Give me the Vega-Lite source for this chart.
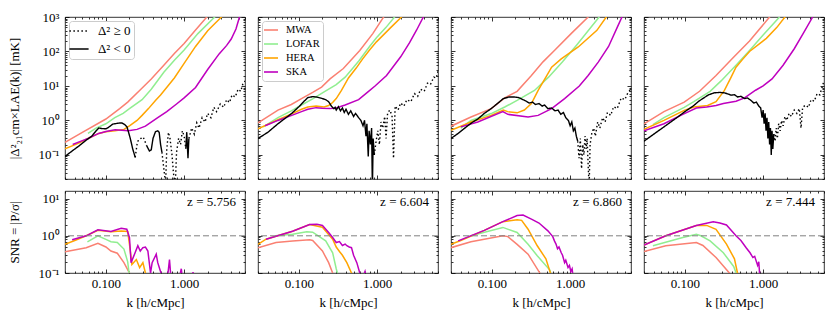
{
"$schema":"https://vega.github.io/schema/vega-lite/v6.json",
"padding":{"left":7,"top":10,"right":8,"bottom":4},
"autosize":{"type":"pad"},
"background":"white",
"config":{
 "font":"Liberation Serif",
 "view":{"stroke":"black","strokeWidth":0.8},
 "axis":{"labelFont":"Liberation Serif","titleFont":"Liberation Serif","labelFontSize":13,"titleFontSize":13,"titleFontWeight":"normal","labelColor":"black","titleColor":"black","grid":false,"labelOverlap":false,"labelFlush":false,"domain":false,"tickColor":"black","tickWidth":0.8},
 "legend":{"labelFont":"Liberation Serif","labelColor":"black"},
 "text":{"font":"Liberation Serif"}
},
"datasets":{
"noise":[
{"p":1,"s":"MWA","k":0.03,"v":0.23},{"p":1,"s":"MWA","k":0.05,"v":0.45},{"p":1,"s":"MWA","k":0.1,"v":1.1},{"p":1,"s":"MWA","k":0.15,"v":2.2},{"p":1,"s":"MWA","k":0.19,"v":3.4},{"p":1,"s":"MWA","k":0.28,"v":8},{"p":1,"s":"MWA","k":0.38,"v":16},{"p":1,"s":"MWA","k":0.55,"v":40},{"p":1,"s":"MWA","k":0.75,"v":87},{"p":1,"s":"MWA","k":1.0,"v":170},{"p":1,"s":"MWA","k":1.4,"v":420},{"p":1,"s":"MWA","k":1.95,"v":1000},{"p":1,"s":"MWA","k":2.2,"v":1400},
{"p":1,"s":"LOFAR","k":0.059,"v":0.42},{"p":1,"s":"LOFAR","k":0.075,"v":0.6},{"p":1,"s":"LOFAR","k":0.1,"v":0.8},{"p":1,"s":"LOFAR","k":0.13,"v":1.2},{"p":1,"s":"LOFAR","k":0.166,"v":1.6},{"p":1,"s":"LOFAR","k":0.2,"v":2.2},{"p":1,"s":"LOFAR","k":0.29,"v":4},{"p":1,"s":"LOFAR","k":0.38,"v":8},{"p":1,"s":"LOFAR","k":0.55,"v":25},{"p":1,"s":"LOFAR","k":0.75,"v":56},{"p":1,"s":"LOFAR","k":1.0,"v":110},{"p":1,"s":"LOFAR","k":1.5,"v":330},{"p":1,"s":"LOFAR","k":2.46,"v":1000},{"p":1,"s":"LOFAR","k":2.8,"v":1400},
{"p":1,"s":"HERA","k":0.03,"v":0.15},{"p":1,"s":"HERA","k":0.045,"v":0.22},{"p":1,"s":"HERA","k":0.059,"v":0.3},{"p":1,"s":"HERA","k":0.081,"v":0.42},{"p":1,"s":"HERA","k":0.1,"v":0.47},{"p":1,"s":"HERA","k":0.131,"v":0.5},{"p":1,"s":"HERA","k":0.17,"v":0.55},{"p":1,"s":"HERA","k":0.2,"v":0.7},{"p":1,"s":"HERA","k":0.25,"v":1.0},{"p":1,"s":"HERA","k":0.29,"v":1.4},{"p":1,"s":"HERA","k":0.35,"v":2.2},{"p":1,"s":"HERA","k":0.43,"v":3.8},{"p":1,"s":"HERA","k":0.5,"v":5.5},{"p":1,"s":"HERA","k":0.62,"v":10},{"p":1,"s":"HERA","k":0.75,"v":17},{"p":1,"s":"HERA","k":1.0,"v":45},{"p":1,"s":"HERA","k":1.4,"v":140},{"p":1,"s":"HERA","k":2.0,"v":400},{"p":1,"s":"HERA","k":3.0,"v":1000},{"p":1,"s":"HERA","k":3.5,"v":1400},
{"p":1,"s":"SKA","k":0.0376,"v":0.2},{"p":1,"s":"SKA","k":0.05,"v":0.26},{"p":1,"s":"SKA","k":0.059,"v":0.3},{"p":1,"s":"SKA","k":0.081,"v":0.42},{"p":1,"s":"SKA","k":0.1,"v":0.48},{"p":1,"s":"SKA","k":0.131,"v":0.54},{"p":1,"s":"SKA","k":0.16,"v":0.52},{"p":1,"s":"SKA","k":0.194,"v":0.5},{"p":1,"s":"SKA","k":0.25,"v":0.55},{"p":1,"s":"SKA","k":0.32,"v":0.68},{"p":1,"s":"SKA","k":0.46,"v":1.2},{"p":1,"s":"SKA","k":0.6,"v":1.8},{"p":1,"s":"SKA","k":0.8,"v":3.0},{"p":1,"s":"SKA","k":1.0,"v":4.5},{"p":1,"s":"SKA","k":1.4,"v":9},{"p":1,"s":"SKA","k":2.0,"v":30},{"p":1,"s":"SKA","k":2.8,"v":85},{"p":1,"s":"SKA","k":3.5,"v":150},{"p":1,"s":"SKA","k":4.0,"v":230},{"p":1,"s":"SKA","k":4.6,"v":450},{"p":1,"s":"SKA","k":5.1,"v":1000},{"p":1,"s":"SKA","k":5.5,"v":1500},
{"p":2,"s":"MWA","k":0.03,"v":0.85},{"p":2,"s":"MWA","k":0.054,"v":2.0},{"p":2,"s":"MWA","k":0.08,"v":2.9},{"p":2,"s":"MWA","k":0.108,"v":4.3},{"p":2,"s":"MWA","k":0.15,"v":6.5},{"p":2,"s":"MWA","k":0.195,"v":9.3},{"p":2,"s":"MWA","k":0.25,"v":16},{"p":2,"s":"MWA","k":0.37,"v":32},{"p":2,"s":"MWA","k":0.6,"v":107},{"p":2,"s":"MWA","k":0.88,"v":330},{"p":2,"s":"MWA","k":1.21,"v":1000},{"p":2,"s":"MWA","k":1.35,"v":1400},
{"p":2,"s":"LOFAR","k":0.035,"v":0.65},{"p":2,"s":"LOFAR","k":0.054,"v":1.2},{"p":2,"s":"LOFAR","k":0.08,"v":1.9},{"p":2,"s":"LOFAR","k":0.108,"v":2.8},{"p":2,"s":"LOFAR","k":0.15,"v":4.2},{"p":2,"s":"LOFAR","k":0.21,"v":6.7},{"p":2,"s":"LOFAR","k":0.3,"v":11},{"p":2,"s":"LOFAR","k":0.39,"v":18},{"p":2,"s":"LOFAR","k":0.5,"v":35},{"p":2,"s":"LOFAR","k":0.59,"v":55},{"p":2,"s":"LOFAR","k":0.8,"v":140},{"p":2,"s":"LOFAR","k":0.98,"v":250},{"p":2,"s":"LOFAR","k":1.3,"v":500},{"p":2,"s":"LOFAR","k":1.67,"v":1000},{"p":2,"s":"LOFAR","k":1.9,"v":1400},
{"p":2,"s":"HERA","k":0.03,"v":0.57},{"p":2,"s":"HERA","k":0.054,"v":1.05},{"p":2,"s":"HERA","k":0.081,"v":1.55},{"p":2,"s":"HERA","k":0.108,"v":2.1},{"p":2,"s":"HERA","k":0.13,"v":2.45},{"p":2,"s":"HERA","k":0.166,"v":2.6},{"p":2,"s":"HERA","k":0.21,"v":2.45},{"p":2,"s":"HERA","k":0.24,"v":2.7},{"p":2,"s":"HERA","k":0.27,"v":3.3},{"p":2,"s":"HERA","k":0.3,"v":4.3},{"p":2,"s":"HERA","k":0.35,"v":7.4},{"p":2,"s":"HERA","k":0.43,"v":17},{"p":2,"s":"HERA","k":0.54,"v":33},{"p":2,"s":"HERA","k":0.65,"v":60},{"p":2,"s":"HERA","k":0.8,"v":110},{"p":2,"s":"HERA","k":0.98,"v":190},{"p":2,"s":"HERA","k":1.5,"v":500},{"p":2,"s":"HERA","k":2.05,"v":1000},{"p":2,"s":"HERA","k":2.3,"v":1400},
{"p":2,"s":"SKA","k":0.037,"v":0.7},{"p":2,"s":"SKA","k":0.054,"v":1.0},{"p":2,"s":"SKA","k":0.081,"v":1.4},{"p":2,"s":"SKA","k":0.108,"v":1.8},{"p":2,"s":"SKA","k":0.13,"v":2.1},{"p":2,"s":"SKA","k":0.166,"v":2.35},{"p":2,"s":"SKA","k":0.2,"v":2.25},{"p":2,"s":"SKA","k":0.25,"v":2.2},{"p":2,"s":"SKA","k":0.3,"v":2.3},{"p":2,"s":"SKA","k":0.39,"v":2.8},{"p":2,"s":"SKA","k":0.58,"v":4},{"p":2,"s":"SKA","k":0.75,"v":6.5},{"p":2,"s":"SKA","k":0.94,"v":10},{"p":2,"s":"SKA","k":1.32,"v":20},{"p":2,"s":"SKA","k":2.0,"v":70},{"p":2,"s":"SKA","k":2.6,"v":180},{"p":2,"s":"SKA","k":3.2,"v":420},{"p":2,"s":"SKA","k":3.9,"v":1000},{"p":2,"s":"SKA","k":4.3,"v":1400},
{"p":3,"s":"MWA","k":0.03,"v":0.68},{"p":3,"s":"MWA","k":0.054,"v":1.26},{"p":3,"s":"MWA","k":0.098,"v":2.2},{"p":3,"s":"MWA","k":0.146,"v":4.5},{"p":3,"s":"MWA","k":0.21,"v":7},{"p":3,"s":"MWA","k":0.32,"v":20},{"p":3,"s":"MWA","k":0.45,"v":50},{"p":3,"s":"MWA","k":0.63,"v":107},{"p":3,"s":"MWA","k":1.03,"v":330},{"p":3,"s":"MWA","k":1.7,"v":1000},{"p":3,"s":"MWA","k":1.9,"v":1400},
{"p":3,"s":"LOFAR","k":0.04,"v":0.6},{"p":3,"s":"LOFAR","k":0.054,"v":1.0},{"p":3,"s":"LOFAR","k":0.098,"v":1.58},{"p":3,"s":"LOFAR","k":0.146,"v":2.45},{"p":3,"s":"LOFAR","k":0.21,"v":3.8},{"p":3,"s":"LOFAR","k":0.35,"v":7.4},{"p":3,"s":"LOFAR","k":0.53,"v":18},{"p":3,"s":"LOFAR","k":0.8,"v":50},{"p":3,"s":"LOFAR","k":1.2,"v":150},{"p":3,"s":"LOFAR","k":1.7,"v":400},{"p":3,"s":"LOFAR","k":2.35,"v":1000},{"p":3,"s":"LOFAR","k":2.6,"v":1400},
{"p":3,"s":"HERA","k":0.03,"v":0.52},{"p":3,"s":"HERA","k":0.054,"v":0.9},{"p":3,"s":"HERA","k":0.098,"v":1.4},{"p":3,"s":"HERA","k":0.14,"v":2.0},{"p":3,"s":"HERA","k":0.159,"v":1.8},{"p":3,"s":"HERA","k":0.21,"v":1.66},{"p":3,"s":"HERA","k":0.26,"v":2.0},{"p":3,"s":"HERA","k":0.32,"v":3.1},{"p":3,"s":"HERA","k":0.39,"v":7.4},{"p":3,"s":"HERA","k":0.49,"v":18},{"p":3,"s":"HERA","k":0.58,"v":35},{"p":3,"s":"HERA","k":0.77,"v":61},{"p":3,"s":"HERA","k":1.27,"v":135},{"p":3,"s":"HERA","k":2.2,"v":410},{"p":3,"s":"HERA","k":2.9,"v":1000},{"p":3,"s":"HERA","k":3.2,"v":1400},
{"p":3,"s":"SKA","k":0.04,"v":0.65},{"p":3,"s":"SKA","k":0.066,"v":0.9},{"p":3,"s":"SKA","k":0.138,"v":1.8},{"p":3,"s":"SKA","k":0.16,"v":1.5},{"p":3,"s":"SKA","k":0.29,"v":1.26},{"p":3,"s":"SKA","k":0.39,"v":1.4},{"p":3,"s":"SKA","k":0.58,"v":2.2},{"p":3,"s":"SKA","k":0.85,"v":4.3},{"p":3,"s":"SKA","k":1.31,"v":10},{"p":3,"s":"SKA","k":1.7,"v":20},{"p":3,"s":"SKA","k":2.3,"v":50},{"p":3,"s":"SKA","k":3.1,"v":140},{"p":3,"s":"SKA","k":4.0,"v":500},{"p":3,"s":"SKA","k":4.6,"v":1000},{"p":3,"s":"SKA","k":5.0,"v":1400},
{"p":4,"s":"MWA","k":0.03,"v":0.8},{"p":4,"s":"MWA","k":0.054,"v":1.8},{"p":4,"s":"MWA","k":0.098,"v":3.4},{"p":4,"s":"MWA","k":0.154,"v":7},{"p":4,"s":"MWA","k":0.25,"v":20},{"p":4,"s":"MWA","k":0.41,"v":65},{"p":4,"s":"MWA","k":0.67,"v":200},{"p":4,"s":"MWA","k":1.21,"v":1000},{"p":4,"s":"MWA","k":1.35,"v":1400},
{"p":4,"s":"LOFAR","k":0.039,"v":0.75},{"p":4,"s":"LOFAR","k":0.054,"v":1.2},{"p":4,"s":"LOFAR","k":0.098,"v":2.4},{"p":4,"s":"LOFAR","k":0.13,"v":3.5},{"p":4,"s":"LOFAR","k":0.21,"v":7},{"p":4,"s":"LOFAR","k":0.29,"v":14},{"p":4,"s":"LOFAR","k":0.45,"v":40},{"p":4,"s":"LOFAR","k":0.67,"v":107},{"p":4,"s":"LOFAR","k":1.0,"v":300},{"p":4,"s":"LOFAR","k":1.62,"v":1000},{"p":4,"s":"LOFAR","k":1.8,"v":1400},
{"p":4,"s":"HERA","k":0.03,"v":0.55},{"p":4,"s":"HERA","k":0.054,"v":1.0},{"p":4,"s":"HERA","k":0.098,"v":1.96},{"p":4,"s":"HERA","k":0.13,"v":2.45},{"p":4,"s":"HERA","k":0.195,"v":2.7},{"p":4,"s":"HERA","k":0.25,"v":3.5},{"p":4,"s":"HERA","k":0.32,"v":7.4},{"p":4,"s":"HERA","k":0.39,"v":18},{"p":4,"s":"HERA","k":0.45,"v":35},{"p":4,"s":"HERA","k":0.55,"v":60},{"p":4,"s":"HERA","k":0.67,"v":100},{"p":4,"s":"HERA","k":1.1,"v":240},{"p":4,"s":"HERA","k":1.5,"v":500},{"p":4,"s":"HERA","k":1.9,"v":1000},{"p":4,"s":"HERA","k":2.1,"v":1400},
{"p":4,"s":"SKA","k":0.03,"v":0.5},{"p":4,"s":"SKA","k":0.054,"v":0.8},{"p":4,"s":"SKA","k":0.094,"v":1.5},{"p":4,"s":"SKA","k":0.14,"v":2.3},{"p":4,"s":"SKA","k":0.19,"v":2.45},{"p":4,"s":"SKA","k":0.25,"v":2.7},{"p":4,"s":"SKA","k":0.31,"v":3.1},{"p":4,"s":"SKA","k":0.45,"v":3.6},{"p":4,"s":"SKA","k":0.58,"v":4.5},{"p":4,"s":"SKA","k":0.8,"v":7.5},{"p":4,"s":"SKA","k":1.0,"v":10},{"p":4,"s":"SKA","k":1.3,"v":16},{"p":4,"s":"SKA","k":1.8,"v":40},{"p":4,"s":"SKA","k":2.5,"v":120},{"p":4,"s":"SKA","k":3.3,"v":350},{"p":4,"s":"SKA","k":4.3,"v":1000},{"p":4,"s":"SKA","k":4.7,"v":1400}
],
"sig":[
{"p":1,"g":1,"d":"neg","k":0.03,"v":0.09},{"p":1,"g":1,"d":"neg","k":0.037,"v":0.13},{"p":1,"g":1,"d":"neg","k":0.045,"v":0.18},{"p":1,"g":1,"d":"neg","k":0.055,"v":0.26},{"p":1,"g":1,"d":"neg","k":0.066,"v":0.35},{"p":1,"g":1,"d":"neg","k":0.075,"v":0.5},{"p":1,"g":1,"d":"neg","k":0.081,"v":0.6},{"p":1,"g":1,"d":"neg","k":0.09,"v":0.58},{"p":1,"g":1,"d":"neg","k":0.1,"v":0.57},{"p":1,"g":1,"d":"neg","k":0.107,"v":0.62},{"p":1,"g":1,"d":"neg","k":0.122,"v":0.78},{"p":1,"g":1,"d":"neg","k":0.138,"v":0.82},{"p":1,"g":1,"d":"neg","k":0.159,"v":0.85},{"p":1,"g":1,"d":"neg","k":0.175,"v":0.75},{"p":1,"g":1,"d":"neg","k":0.186,"v":0.65},{"p":1,"g":1,"d":"neg","k":0.195,"v":0.45},{"p":1,"g":1,"d":"neg","k":0.205,"v":0.3},{"p":1,"g":1,"d":"neg","k":0.22,"v":0.15},{"p":1,"g":1,"d":"neg","k":0.237,"v":0.085},
{"p":1,"g":2,"d":"pos","k":0.237,"v":0.085},{"p":1,"g":2,"d":"pos","k":0.25,"v":0.2},{"p":1,"g":2,"d":"pos","k":0.26,"v":0.27},{"p":1,"g":2,"d":"pos","k":0.28,"v":0.3},{"p":1,"g":2,"d":"pos","k":0.3,"v":0.33},{"p":1,"g":2,"d":"pos","k":0.315,"v":0.25},{"p":1,"g":2,"d":"pos","k":0.33,"v":0.19},
{"p":1,"g":3,"d":"neg","k":0.33,"v":0.19},{"p":1,"g":3,"d":"neg","k":0.36,"v":0.13},{"p":1,"g":3,"d":"neg","k":0.38,"v":0.14},{"p":1,"g":3,"d":"neg","k":0.4,"v":0.3},{"p":1,"g":3,"d":"neg","k":0.43,"v":0.47},{"p":1,"g":3,"d":"neg","k":0.46,"v":0.5},{"p":1,"g":3,"d":"neg","k":0.48,"v":0.45},{"p":1,"g":3,"d":"neg","k":0.5,"v":0.2},{"p":1,"g":3,"d":"neg","k":0.52,"v":0.12},
{"p":1,"g":4,"d":"pos","k":0.52,"v":0.12},{"p":1,"g":4,"d":"pos","k":0.55,"v":0.04},{"p":1,"g":4,"d":"pos","k":0.58,"v":0.015},{"p":1,"g":4,"d":"pos","k":0.6,"v":0.15},{"p":1,"g":4,"d":"pos","k":0.63,"v":0.45},{"p":1,"g":4,"d":"pos","k":0.66,"v":0.3},{"p":1,"g":4,"d":"pos","k":0.7,"v":0.1},{"p":1,"g":4,"d":"pos","k":0.73,"v":0.03},{"p":1,"g":4,"d":"pos","k":0.77,"v":0.012},{"p":1,"g":4,"d":"pos","k":0.8,"v":0.12},{"p":1,"g":4,"d":"pos","k":0.85,"v":0.3},{"p":1,"g":4,"d":"pos","k":0.9,"v":0.2},{"p":1,"g":4,"d":"pos","k":0.95,"v":0.5},{"p":1,"g":4,"d":"pos","k":1.0,"v":0.35},{"p":1,"g":4,"d":"pos","k":1.05,"v":0.15},
{"p":1,"g":5,"d":"neg","k":1.05,"v":0.15},{"p":1,"g":5,"d":"neg","k":1.08,"v":0.45},{"p":1,"g":5,"d":"neg","k":1.12,"v":0.08},{"p":1,"g":5,"d":"neg","k":1.15,"v":0.3},
{"p":1,"g":6,"d":"pos","k":1.15,"v":0.3},{"p":1,"g":6,"d":"pos","k":1.25,"v":0.6},{"p":1,"g":6,"d":"pos","k":1.35,"v":0.4},{"p":1,"g":6,"d":"pos","k":1.45,"v":0.85},{"p":1,"g":6,"d":"pos","k":1.55,"v":0.6},{"p":1,"g":6,"d":"pos","k":1.7,"v":1.2},{"p":1,"g":6,"d":"pos","k":1.85,"v":0.9},{"p":1,"g":6,"d":"pos","k":2.0,"v":1.6},{"p":1,"g":6,"d":"pos","k":2.2,"v":1.2},{"p":1,"g":6,"d":"pos","k":2.4,"v":2.4},{"p":1,"g":6,"d":"pos","k":2.6,"v":1.8},{"p":1,"g":6,"d":"pos","k":2.9,"v":3.0},{"p":1,"g":6,"d":"pos","k":3.2,"v":2.4},{"p":1,"g":6,"d":"pos","k":3.5,"v":4.0},{"p":1,"g":6,"d":"pos","k":3.8,"v":3.3},{"p":1,"g":6,"d":"pos","k":4.1,"v":5.5},{"p":1,"g":6,"d":"pos","k":4.5,"v":4.8},{"p":1,"g":6,"d":"pos","k":4.9,"v":8},{"p":1,"g":6,"d":"pos","k":5.3,"v":7},{"p":1,"g":6,"d":"pos","k":5.6,"v":11},{"p":1,"g":6,"d":"pos","k":6.0,"v":14},
{"p":2,"g":1,"d":"neg","k":0.03,"v":0.3},{"p":2,"g":1,"d":"neg","k":0.04,"v":0.45},{"p":2,"g":1,"d":"neg","k":0.054,"v":0.8},{"p":2,"g":1,"d":"neg","k":0.065,"v":1.1},{"p":2,"g":1,"d":"neg","k":0.081,"v":1.6},{"p":2,"g":1,"d":"neg","k":0.1,"v":2.5},{"p":2,"g":1,"d":"neg","k":0.115,"v":3.5},{"p":2,"g":1,"d":"neg","k":0.13,"v":4.6},{"p":2,"g":1,"d":"neg","k":0.15,"v":4.9},{"p":2,"g":1,"d":"neg","k":0.166,"v":4.8},{"p":2,"g":1,"d":"neg","k":0.185,"v":4.5},{"p":2,"g":1,"d":"neg","k":0.2,"v":4.3},{"p":2,"g":1,"d":"neg","k":0.22,"v":4.0},{"p":2,"g":1,"d":"neg","k":0.24,"v":3.5},{"p":2,"g":1,"d":"neg","k":0.26,"v":2.6},{"p":2,"g":1,"d":"neg","k":0.28,"v":2.2},{"p":2,"g":1,"d":"neg","k":0.29,"v":2.4},{"p":2,"g":1,"d":"neg","k":0.3,"v":2.0},{"p":2,"g":1,"d":"neg","k":0.32,"v":2.5},{"p":2,"g":1,"d":"neg","k":0.34,"v":1.9},{"p":2,"g":1,"d":"neg","k":0.36,"v":2.3},{"p":2,"g":1,"d":"neg","k":0.38,"v":1.7},{"p":2,"g":1,"d":"neg","k":0.4,"v":2.1},{"p":2,"g":1,"d":"neg","k":0.43,"v":1.5},{"p":2,"g":1,"d":"neg","k":0.46,"v":1.9},{"p":2,"g":1,"d":"neg","k":0.5,"v":1.3},{"p":2,"g":1,"d":"neg","k":0.53,"v":1.6},{"p":2,"g":1,"d":"neg","k":0.58,"v":1.2},{"p":2,"g":1,"d":"neg","k":0.62,"v":1.0},{"p":2,"g":1,"d":"neg","k":0.66,"v":0.7},{"p":2,"g":1,"d":"neg","k":0.69,"v":1.0},{"p":2,"g":1,"d":"neg","k":0.72,"v":0.35},{"p":2,"g":1,"d":"neg","k":0.74,"v":0.8},{"p":2,"g":1,"d":"neg","k":0.77,"v":0.09},{"p":2,"g":1,"d":"neg","k":0.79,"v":0.5},{"p":2,"g":1,"d":"neg","k":0.82,"v":0.2},{"p":2,"g":1,"d":"neg","k":0.85,"v":0.6},{"p":2,"g":1,"d":"neg","k":0.87,"v":0.01},{"p":2,"g":1,"d":"neg","k":0.89,"v":0.3},{"p":2,"g":1,"d":"neg","k":0.92,"v":0.1},
{"p":2,"g":2,"d":"pos","k":0.92,"v":0.1},{"p":2,"g":2,"d":"pos","k":0.97,"v":0.25},{"p":2,"g":2,"d":"pos","k":1.02,"v":0.5},{"p":2,"g":2,"d":"pos","k":1.07,"v":0.2},{"p":2,"g":2,"d":"pos","k":1.12,"v":0.9},{"p":2,"g":2,"d":"pos","k":1.18,"v":0.6},{"p":2,"g":2,"d":"pos","k":1.25,"v":1.3},{"p":2,"g":2,"d":"pos","k":1.3,"v":0.3},{"p":2,"g":2,"d":"pos","k":1.36,"v":1.6},{"p":2,"g":2,"d":"pos","k":1.45,"v":2.0},{"p":2,"g":2,"d":"pos","k":1.55,"v":1.4},{"p":2,"g":2,"d":"pos","k":1.62,"v":0.08},{"p":2,"g":2,"d":"pos","k":1.7,"v":2.6},{"p":2,"g":2,"d":"pos","k":1.85,"v":2.0},{"p":2,"g":2,"d":"pos","k":2.0,"v":3.2},{"p":2,"g":2,"d":"pos","k":2.2,"v":2.6},{"p":2,"g":2,"d":"pos","k":2.4,"v":4.0},{"p":2,"g":2,"d":"pos","k":2.7,"v":3.5},{"p":2,"g":2,"d":"pos","k":3.0,"v":6},{"p":2,"g":2,"d":"pos","k":3.3,"v":5},{"p":2,"g":2,"d":"pos","k":3.6,"v":8},{"p":2,"g":2,"d":"pos","k":4.0,"v":7},{"p":2,"g":2,"d":"pos","k":4.4,"v":12},{"p":2,"g":2,"d":"pos","k":4.8,"v":11},{"p":2,"g":2,"d":"pos","k":5.3,"v":18},{"p":2,"g":2,"d":"pos","k":5.7,"v":17},{"p":2,"g":2,"d":"pos","k":6.0,"v":27},
{"p":3,"g":1,"d":"neg","k":0.03,"v":0.3},{"p":3,"g":1,"d":"neg","k":0.037,"v":0.42},{"p":3,"g":1,"d":"neg","k":0.045,"v":0.6},{"p":3,"g":1,"d":"neg","k":0.055,"v":0.85},{"p":3,"g":1,"d":"neg","k":0.066,"v":1.1},{"p":3,"g":1,"d":"neg","k":0.08,"v":1.6},{"p":3,"g":1,"d":"neg","k":0.098,"v":2.2},{"p":3,"g":1,"d":"neg","k":0.12,"v":3.2},{"p":3,"g":1,"d":"neg","k":0.14,"v":4.3},{"p":3,"g":1,"d":"neg","k":0.166,"v":4.8},{"p":3,"g":1,"d":"neg","k":0.19,"v":4.8},{"p":3,"g":1,"d":"neg","k":0.22,"v":4.6},{"p":3,"g":1,"d":"neg","k":0.25,"v":4.0},{"p":3,"g":1,"d":"neg","k":0.27,"v":3.7},{"p":3,"g":1,"d":"neg","k":0.3,"v":3.2},{"p":3,"g":1,"d":"neg","k":0.33,"v":3.4},{"p":3,"g":1,"d":"neg","k":0.36,"v":2.9},{"p":3,"g":1,"d":"neg","k":0.4,"v":3.1},{"p":3,"g":1,"d":"neg","k":0.44,"v":2.6},{"p":3,"g":1,"d":"neg","k":0.47,"v":2.8},{"p":3,"g":1,"d":"neg","k":0.52,"v":2.2},{"p":3,"g":1,"d":"neg","k":0.58,"v":2.3},{"p":3,"g":1,"d":"neg","k":0.64,"v":1.9},{"p":3,"g":1,"d":"neg","k":0.7,"v":2.0},{"p":3,"g":1,"d":"neg","k":0.76,"v":1.5},{"p":3,"g":1,"d":"neg","k":0.82,"v":1.7},{"p":3,"g":1,"d":"neg","k":0.88,"v":1.2},{"p":3,"g":1,"d":"neg","k":0.95,"v":1.0},{"p":3,"g":1,"d":"neg","k":1.0,"v":0.7},{"p":3,"g":1,"d":"neg","k":1.05,"v":0.9},{"p":3,"g":1,"d":"neg","k":1.1,"v":0.5},{"p":3,"g":1,"d":"neg","k":1.15,"v":0.6},{"p":3,"g":1,"d":"neg","k":1.2,"v":0.35},{"p":3,"g":1,"d":"neg","k":1.25,"v":0.25},
{"p":3,"g":2,"d":"pos","k":1.25,"v":0.25},{"p":3,"g":2,"d":"pos","k":1.3,"v":0.08},{"p":3,"g":2,"d":"pos","k":1.35,"v":0.3},{"p":3,"g":2,"d":"pos","k":1.4,"v":0.04},{"p":3,"g":2,"d":"pos","k":1.45,"v":0.2},{"p":3,"g":2,"d":"pos","k":1.5,"v":0.1},{"p":3,"g":2,"d":"pos","k":1.55,"v":0.35},{"p":3,"g":2,"d":"pos","k":1.6,"v":0.15},{"p":3,"g":2,"d":"pos","k":1.65,"v":0.3},{"p":3,"g":2,"d":"pos","k":1.7,"v":0.05},{"p":3,"g":2,"d":"pos","k":1.75,"v":0.012},{"p":3,"g":2,"d":"pos","k":1.8,"v":0.2},{"p":3,"g":2,"d":"pos","k":1.9,"v":0.45},{"p":3,"g":2,"d":"pos","k":2.0,"v":0.6},{"p":3,"g":2,"d":"pos","k":2.1,"v":0.35},{"p":3,"g":2,"d":"pos","k":2.25,"v":0.9},{"p":3,"g":2,"d":"pos","k":2.4,"v":0.6},{"p":3,"g":2,"d":"pos","k":2.6,"v":1.2},{"p":3,"g":2,"d":"pos","k":2.8,"v":0.9},{"p":3,"g":2,"d":"pos","k":3.0,"v":1.7},{"p":3,"g":2,"d":"pos","k":3.3,"v":1.4},{"p":3,"g":2,"d":"pos","k":3.6,"v":2.5},{"p":3,"g":2,"d":"pos","k":4.0,"v":2.2},{"p":3,"g":2,"d":"pos","k":4.5,"v":4.5},{"p":3,"g":2,"d":"pos","k":5.0,"v":4.0},{"p":3,"g":2,"d":"pos","k":5.5,"v":6.5},{"p":3,"g":2,"d":"pos","k":6.0,"v":8},
{"p":4,"g":1,"d":"neg","k":0.03,"v":0.25},{"p":4,"g":1,"d":"neg","k":0.04,"v":0.4},{"p":4,"g":1,"d":"neg","k":0.054,"v":0.65},{"p":4,"g":1,"d":"neg","k":0.066,"v":0.9},{"p":4,"g":1,"d":"neg","k":0.081,"v":1.26},{"p":4,"g":1,"d":"neg","k":0.1,"v":1.8},{"p":4,"g":1,"d":"neg","k":0.13,"v":2.7},{"p":4,"g":1,"d":"neg","k":0.15,"v":3.6},{"p":4,"g":1,"d":"neg","k":0.177,"v":4.6},{"p":4,"g":1,"d":"neg","k":0.2,"v":5.5},{"p":4,"g":1,"d":"neg","k":0.236,"v":6.3},{"p":4,"g":1,"d":"neg","k":0.28,"v":6.5},{"p":4,"g":1,"d":"neg","k":0.32,"v":6.3},{"p":4,"g":1,"d":"neg","k":0.36,"v":5.8},{"p":4,"g":1,"d":"neg","k":0.39,"v":5.4},{"p":4,"g":1,"d":"neg","k":0.43,"v":5.6},{"p":4,"g":1,"d":"neg","k":0.47,"v":4.8},{"p":4,"g":1,"d":"neg","k":0.52,"v":5.0},{"p":4,"g":1,"d":"neg","k":0.58,"v":4.3},{"p":4,"g":1,"d":"neg","k":0.63,"v":4.5},{"p":4,"g":1,"d":"neg","k":0.7,"v":3.8},{"p":4,"g":1,"d":"neg","k":0.76,"v":3.2},{"p":4,"g":1,"d":"neg","k":0.82,"v":3.4},{"p":4,"g":1,"d":"neg","k":0.88,"v":2.6},{"p":4,"g":1,"d":"neg","k":0.93,"v":2.3},{"p":4,"g":1,"d":"neg","k":0.97,"v":1.2},{"p":4,"g":1,"d":"neg","k":1.0,"v":2.0},{"p":4,"g":1,"d":"neg","k":1.03,"v":0.8},{"p":4,"g":1,"d":"neg","k":1.06,"v":1.6},{"p":4,"g":1,"d":"neg","k":1.09,"v":0.5},{"p":4,"g":1,"d":"neg","k":1.12,"v":1.2},{"p":4,"g":1,"d":"neg","k":1.15,"v":0.3},{"p":4,"g":1,"d":"neg","k":1.18,"v":0.9},{"p":4,"g":1,"d":"neg","k":1.21,"v":0.2},{"p":4,"g":1,"d":"neg","k":1.24,"v":0.6},{"p":4,"g":1,"d":"neg","k":1.27,"v":0.1},{"p":4,"g":1,"d":"neg","k":1.3,"v":0.5},{"p":4,"g":1,"d":"neg","k":1.33,"v":0.15},{"p":4,"g":1,"d":"neg","k":1.37,"v":0.4},
{"p":4,"g":2,"d":"pos","k":1.37,"v":0.4},{"p":4,"g":2,"d":"pos","k":1.42,"v":0.25},{"p":4,"g":2,"d":"pos","k":1.47,"v":0.6},{"p":4,"g":2,"d":"pos","k":1.52,"v":0.3},{"p":4,"g":2,"d":"pos","k":1.58,"v":0.8},{"p":4,"g":2,"d":"pos","k":1.65,"v":0.5},{"p":4,"g":2,"d":"pos","k":1.72,"v":1.0},{"p":4,"g":2,"d":"pos","k":1.8,"v":0.7},{"p":4,"g":2,"d":"pos","k":1.9,"v":1.3},{"p":4,"g":2,"d":"pos","k":2.0,"v":1.0},{"p":4,"g":2,"d":"pos","k":2.15,"v":1.6},{"p":4,"g":2,"d":"pos","k":2.3,"v":1.3},{"p":4,"g":2,"d":"pos","k":2.5,"v":2.0},{"p":4,"g":2,"d":"pos","k":2.7,"v":1.6},{"p":4,"g":2,"d":"pos","k":2.9,"v":2.2},{"p":4,"g":2,"d":"pos","k":3.05,"v":0.6},{"p":4,"g":2,"d":"pos","k":3.2,"v":2.4},{"p":4,"g":2,"d":"pos","k":3.5,"v":2.8},{"p":4,"g":2,"d":"pos","k":3.8,"v":2.4},{"p":4,"g":2,"d":"pos","k":4.1,"v":4.0},{"p":4,"g":2,"d":"pos","k":4.5,"v":3.6},{"p":4,"g":2,"d":"pos","k":4.9,"v":6.0},{"p":4,"g":2,"d":"pos","k":5.3,"v":5.5},{"p":4,"g":2,"d":"pos","k":5.7,"v":9.5},{"p":4,"g":2,"d":"pos","k":6.0,"v":14}
],
"snr":[
{"p":1,"s":"MWA","k":0.03,"v":0.37},{"p":1,"s":"MWA","k":0.056,"v":0.48},{"p":1,"s":"MWA","k":0.079,"v":0.63},{"p":1,"s":"MWA","k":0.1,"v":0.5},{"p":1,"s":"MWA","k":0.116,"v":0.39},{"p":1,"s":"MWA","k":0.14,"v":0.34},{"p":1,"s":"MWA","k":0.17,"v":0.19},{"p":1,"s":"MWA","k":0.2,"v":0.1},{"p":1,"s":"MWA","k":0.21,"v":0.08},
{"p":1,"s":"LOFAR","k":0.058,"v":0.69},{"p":1,"s":"LOFAR","k":0.079,"v":1.0},{"p":1,"s":"LOFAR","k":0.1,"v":0.8},{"p":1,"s":"LOFAR","k":0.116,"v":0.69},{"p":1,"s":"LOFAR","k":0.14,"v":0.66},{"p":1,"s":"LOFAR","k":0.17,"v":0.44},{"p":1,"s":"LOFAR","k":0.19,"v":0.2},{"p":1,"s":"LOFAR","k":0.2,"v":0.08},
{"p":1,"s":"HERA","k":0.03,"v":0.59},{"p":1,"s":"HERA","k":0.04,"v":0.75},{"p":1,"s":"HERA","k":0.056,"v":1.0},{"p":1,"s":"HERA","k":0.079,"v":1.4},{"p":1,"s":"HERA","k":0.116,"v":1.28},{"p":1,"s":"HERA","k":0.157,"v":1.35},{"p":1,"s":"HERA","k":0.19,"v":1.3},{"p":1,"s":"HERA","k":0.2,"v":0.6},{"p":1,"s":"HERA","k":0.215,"v":0.17},{"p":1,"s":"HERA","k":0.245,"v":0.23},{"p":1,"s":"HERA","k":0.27,"v":0.14},{"p":1,"s":"HERA","k":0.297,"v":0.19},{"p":1,"s":"HERA","k":0.32,"v":0.1},{"p":1,"s":"HERA","k":0.34,"v":0.06},
{"p":1,"s":"SKA","k":0.037,"v":0.78},{"p":1,"s":"SKA","k":0.056,"v":1.0},{"p":1,"s":"SKA","k":0.079,"v":1.45},{"p":1,"s":"SKA","k":0.116,"v":1.3},{"p":1,"s":"SKA","k":0.157,"v":1.6},{"p":1,"s":"SKA","k":0.185,"v":1.5},{"p":1,"s":"SKA","k":0.2,"v":0.9},{"p":1,"s":"SKA","k":0.21,"v":0.19},{"p":1,"s":"SKA","k":0.232,"v":0.32},{"p":1,"s":"SKA","k":0.256,"v":0.54},{"p":1,"s":"SKA","k":0.275,"v":0.39},{"p":1,"s":"SKA","k":0.297,"v":0.48},{"p":1,"s":"SKA","k":0.32,"v":0.5},{"p":1,"s":"SKA","k":0.344,"v":0.39},{"p":1,"s":"SKA","k":0.372,"v":0.1},{"p":1,"s":"SKA","k":0.39,"v":0.19},{"p":1,"s":"SKA","k":0.44,"v":0.32},{"p":1,"s":"SKA","k":0.46,"v":0.19},{"p":1,"s":"SKA","k":0.51,"v":0.095},{"p":1,"s":"SKA","k":0.6,"v":0.05},{"p":1,"s":"SKA","k":0.65,"v":0.23},{"p":1,"s":"SKA","k":0.68,"v":0.07},{"p":1,"s":"SKA","k":0.85,"v":0.06},{"p":1,"s":"SKA","k":0.92,"v":0.13},{"p":1,"s":"SKA","k":0.95,"v":0.07},{"p":1,"s":"SKA","k":1.25,"v":0.07},{"p":1,"s":"SKA","k":1.3,"v":0.105},{"p":1,"s":"SKA","k":1.35,"v":0.07},
{"p":2,"s":"MWA","k":0.03,"v":0.48},{"p":2,"s":"MWA","k":0.051,"v":0.66},{"p":2,"s":"MWA","k":0.083,"v":0.73},{"p":2,"s":"MWA","k":0.137,"v":0.78},{"p":2,"s":"MWA","k":0.15,"v":0.75},{"p":2,"s":"MWA","k":0.2,"v":0.39},{"p":2,"s":"MWA","k":0.24,"v":0.19},{"p":2,"s":"MWA","k":0.27,"v":0.1},{"p":2,"s":"MWA","k":0.28,"v":0.08},
{"p":2,"s":"LOFAR","k":0.05,"v":1.0},{"p":2,"s":"LOFAR","k":0.083,"v":1.1},{"p":2,"s":"LOFAR","k":0.126,"v":1.28},{"p":2,"s":"LOFAR","k":0.15,"v":1.25},{"p":2,"s":"LOFAR","k":0.22,"v":0.73},{"p":2,"s":"LOFAR","k":0.27,"v":0.35},{"p":2,"s":"LOFAR","k":0.3,"v":0.13},{"p":2,"s":"LOFAR","k":0.32,"v":0.08},
{"p":2,"s":"HERA","k":0.03,"v":0.59},{"p":2,"s":"HERA","k":0.038,"v":0.81},{"p":2,"s":"HERA","k":0.083,"v":1.33},{"p":2,"s":"HERA","k":0.137,"v":2.0},{"p":2,"s":"HERA","k":0.2,"v":1.7},{"p":2,"s":"HERA","k":0.27,"v":0.81},{"p":2,"s":"HERA","k":0.3,"v":0.5},{"p":2,"s":"HERA","k":0.33,"v":0.38},{"p":2,"s":"HERA","k":0.36,"v":0.3},{"p":2,"s":"HERA","k":0.41,"v":0.19},{"p":2,"s":"HERA","k":0.47,"v":0.1},{"p":2,"s":"HERA","k":0.5,"v":0.07},
{"p":2,"s":"SKA","k":0.038,"v":0.81},{"p":2,"s":"SKA","k":0.083,"v":1.33},{"p":2,"s":"SKA","k":0.137,"v":2.0},{"p":2,"s":"SKA","k":0.17,"v":2.05},{"p":2,"s":"SKA","k":0.2,"v":1.9},{"p":2,"s":"SKA","k":0.24,"v":1.23},{"p":2,"s":"SKA","k":0.27,"v":0.9},{"p":2,"s":"SKA","k":0.3,"v":0.66},{"p":2,"s":"SKA","k":0.33,"v":0.7},{"p":2,"s":"SKA","k":0.36,"v":0.55},{"p":2,"s":"SKA","k":0.39,"v":0.6},{"p":2,"s":"SKA","k":0.41,"v":0.54},{"p":2,"s":"SKA","k":0.44,"v":0.5},{"p":2,"s":"SKA","k":0.47,"v":0.48},{"p":2,"s":"SKA","k":0.5,"v":0.3},{"p":2,"s":"SKA","k":0.55,"v":0.19},{"p":2,"s":"SKA","k":0.6,"v":0.1},{"p":2,"s":"SKA","k":0.62,"v":0.08},{"p":2,"s":"SKA","k":0.66,"v":0.08},{"p":2,"s":"SKA","k":0.7,"v":0.11},{"p":2,"s":"SKA","k":0.72,"v":0.08},
{"p":3,"s":"MWA","k":0.03,"v":0.48},{"p":3,"s":"MWA","k":0.054,"v":0.69},{"p":3,"s":"MWA","k":0.138,"v":1.0},{"p":3,"s":"MWA","k":0.16,"v":0.95},{"p":3,"s":"MWA","k":0.21,"v":0.59},{"p":3,"s":"MWA","k":0.29,"v":0.32},{"p":3,"s":"MWA","k":0.41,"v":0.1},{"p":3,"s":"MWA","k":0.43,"v":0.08},
{"p":3,"s":"LOFAR","k":0.054,"v":1.0},{"p":3,"s":"LOFAR","k":0.138,"v":1.68},{"p":3,"s":"LOFAR","k":0.21,"v":1.23},{"p":3,"s":"LOFAR","k":0.29,"v":0.59},{"p":3,"s":"LOFAR","k":0.38,"v":0.29},{"p":3,"s":"LOFAR","k":0.55,"v":0.12},{"p":3,"s":"LOFAR","k":0.58,"v":0.08},
{"p":3,"s":"HERA","k":0.03,"v":0.59},{"p":3,"s":"HERA","k":0.04,"v":0.75},{"p":3,"s":"HERA","k":0.08,"v":1.4},{"p":3,"s":"HERA","k":0.138,"v":2.4},{"p":3,"s":"HERA","k":0.21,"v":2.7},{"p":3,"s":"HERA","k":0.24,"v":2.6},{"p":3,"s":"HERA","k":0.29,"v":1.5},{"p":3,"s":"HERA","k":0.38,"v":0.54},{"p":3,"s":"HERA","k":0.49,"v":0.24},{"p":3,"s":"HERA","k":0.56,"v":0.1},{"p":3,"s":"HERA","k":0.58,"v":0.08},
{"p":3,"s":"SKA","k":0.037,"v":0.73},{"p":3,"s":"SKA","k":0.08,"v":1.4},{"p":3,"s":"SKA","k":0.138,"v":2.4},{"p":3,"s":"SKA","k":0.21,"v":3.5},{"p":3,"s":"SKA","k":0.25,"v":3.6},{"p":3,"s":"SKA","k":0.32,"v":2.8},{"p":3,"s":"SKA","k":0.4,"v":2.2},{"p":3,"s":"SKA","k":0.52,"v":1.36},{"p":3,"s":"SKA","k":0.6,"v":0.95},{"p":3,"s":"SKA","k":0.63,"v":0.73},{"p":3,"s":"SKA","k":0.66,"v":0.6},{"p":3,"s":"SKA","k":0.69,"v":0.45},{"p":3,"s":"SKA","k":0.72,"v":0.5},{"p":3,"s":"SKA","k":0.77,"v":0.35},{"p":3,"s":"SKA","k":0.8,"v":0.3},{"p":3,"s":"SKA","k":0.85,"v":0.19},{"p":3,"s":"SKA","k":0.88,"v":0.22},{"p":3,"s":"SKA","k":0.94,"v":0.14},{"p":3,"s":"SKA","k":0.98,"v":0.16},{"p":3,"s":"SKA","k":1.02,"v":0.11},{"p":3,"s":"SKA","k":1.06,"v":0.13},{"p":3,"s":"SKA","k":1.09,"v":0.08},
{"p":4,"s":"MWA","k":0.03,"v":0.38},{"p":4,"s":"MWA","k":0.057,"v":0.54},{"p":4,"s":"MWA","k":0.14,"v":0.66},{"p":4,"s":"MWA","k":0.17,"v":0.55},{"p":4,"s":"MWA","k":0.25,"v":0.26},{"p":4,"s":"MWA","k":0.37,"v":0.1},{"p":4,"s":"MWA","k":0.39,"v":0.08},
{"p":4,"s":"LOFAR","k":0.039,"v":0.54},{"p":4,"s":"LOFAR","k":0.094,"v":0.9},{"p":4,"s":"LOFAR","k":0.14,"v":1.1},{"p":4,"s":"LOFAR","k":0.16,"v":1.0},{"p":4,"s":"LOFAR","k":0.21,"v":0.73},{"p":4,"s":"LOFAR","k":0.31,"v":0.35},{"p":4,"s":"LOFAR","k":0.42,"v":0.15},{"p":4,"s":"LOFAR","k":0.46,"v":0.09},
{"p":4,"s":"HERA","k":0.03,"v":0.56},{"p":4,"s":"HERA","k":0.057,"v":1.0},{"p":4,"s":"HERA","k":0.14,"v":1.9},{"p":4,"s":"HERA","k":0.19,"v":1.9},{"p":4,"s":"HERA","k":0.25,"v":1.5},{"p":4,"s":"HERA","k":0.34,"v":0.6},{"p":4,"s":"HERA","k":0.43,"v":0.24},{"p":4,"s":"HERA","k":0.47,"v":0.1},{"p":4,"s":"HERA","k":0.49,"v":0.08},
{"p":4,"s":"SKA","k":0.03,"v":0.56},{"p":4,"s":"SKA","k":0.057,"v":1.0},{"p":4,"s":"SKA","k":0.14,"v":1.9},{"p":4,"s":"SKA","k":0.23,"v":2.4},{"p":4,"s":"SKA","k":0.28,"v":2.2},{"p":4,"s":"SKA","k":0.34,"v":1.95},{"p":4,"s":"SKA","k":0.45,"v":1.0},{"p":4,"s":"SKA","k":0.52,"v":0.75},{"p":4,"s":"SKA","k":0.61,"v":0.47},{"p":4,"s":"SKA","k":0.68,"v":0.35},{"p":4,"s":"SKA","k":0.74,"v":0.26},{"p":4,"s":"SKA","k":0.78,"v":0.28},{"p":4,"s":"SKA","k":0.85,"v":0.16},{"p":4,"s":"SKA","k":0.88,"v":0.2},{"p":4,"s":"SKA","k":0.9,"v":0.1},{"p":4,"s":"SKA","k":0.92,"v":0.08}
]
},
"columns":4,
"spacing":{"row":12,"column":13},
"bounds":"flush",
"align":"each",
"resolve":{"scale":{"x":"independent","y":"independent","color":"independent","strokeDash":"independent"},"axis":{"x":"independent","y":"independent"},"legend":{"color":"independent","strokeDash":"independent"}},
"concat":[
{"width":180,"height":162,"resolve":{"axis":{"x":"independent","y":"independent"}},"layer":[
 {"data":{"name":"noise"},"transform":[{"filter":"datum.p==1"}],"mark":{"type":"line","clip":true,"strokeWidth":1.5},
  "encoding":{"x":{"field":"k","type":"quantitative","scale":{"type":"log","domain":[0.03,6],"nice":false},"axis":{"title":null,"labels":false,"values":[0.03,0.04,0.05,0.06,0.07,0.08,0.09,0.1,0.2,0.3,0.4,0.5,0.6,0.7,0.8,0.9,1,2,3,4,5,6],"tickSize":{"condition":{"test":"datum.value==0.1||datum.value==1","value":-4},"value":-2}}},
  "y":{"field":"v","type":"quantitative","scale":{"type":"log","domain":[0.02,1000],"nice":false},"axis":{"title":"|Δ²₂₁cm×LAE(k)| [mK]","values":[0.02,0.03,0.04,0.05,0.06,0.07,0.08,0.09,0.1,0.2,0.3,0.4,0.5,0.6,0.7,0.8,0.9,1,2,3,4,5,6,7,8,9,10,20,30,40,50,60,70,80,90,100,200,300,400,500,600,700,800,900,1000],"labelExpr":"datum.value==1000?'10³':datum.value==100?'10²':datum.value==10?'10¹':datum.value==1?'10⁰':datum.value==0.1?'10⁻¹':''","tickSize":{"condition":{"test":"datum.value==0.1||datum.value==1||datum.value==10||datum.value==100||datum.value==1000","value":-4},"value":-2},"labelPadding":10,"minExtent":34,"maxExtent":34,"titlePadding":10}},
  "color":{"field":"s","type":"nominal","scale":{"domain":["MWA","LOFAR","HERA","SKA"],"range":["#fa8072","#90ee90","#ffa500","#bf00bf"]},"legend":null}}},
 {"data":{"name":"sig"},"transform":[{"filter":"datum.p==1"}],"mark":{"type":"line","clip":true,"color":"black","strokeWidth":1.4},
  "encoding":{"x":{"field":"k","type":"quantitative","axis":{"orient":"top","title":null,"labels":false,"values":[0.03,0.04,0.05,0.06,0.07,0.08,0.09,0.1,0.2,0.3,0.4,0.5,0.6,0.7,0.8,0.9,1,2,3,4,5,6],"tickSize":{"condition":{"test":"datum.value==0.1||datum.value==1","value":-4},"value":-2}}},
  "y":{"field":"v","type":"quantitative","axis":{"orient":"right","title":null,"labels":false,"values":[0.02,0.03,0.04,0.05,0.06,0.07,0.08,0.09,0.1,0.2,0.3,0.4,0.5,0.6,0.7,0.8,0.9,1,2,3,4,5,6,7,8,9,10,20,30,40,50,60,70,80,90,100,200,300,400,500,600,700,800,900,1000],"tickSize":{"condition":{"test":"datum.value==0.1||datum.value==1||datum.value==10||datum.value==100||datum.value==1000","value":-4},"value":-2}}},
  "strokeDash":{"field":"d","type":"nominal","scale":{"domain":["pos","neg"],"range":[[1.5,2.5],[1,0]]},"legend":{"orient":"top-left","offset":4,"title":null,"labelExpr":"datum.value=='pos'?'Δ² ≥ 0':'Δ² < 0'","symbolType":"M-1.6,0H1.6","symbolSize":144,"symbolStrokeWidth":1.6,"symbolStrokeColor":"black","symbolFillColor":"transparent","labelFontSize":13,"labelFont":"Liberation Serif","padding":3,"rowPadding":4,"labelOffset":12,"fillColor":"white","strokeColor":"#cccccc","cornerRadius":3}},
  "detail":{"field":"g"}}}
]},
{"width":180,"height":162,"resolve":{"axis":{"x":"independent","y":"independent"}},"layer":[
 {"data":{"name":"noise"},"transform":[{"filter":"datum.p==2"}],"mark":{"type":"line","clip":true,"strokeWidth":1.5},
  "encoding":{"x":{"field":"k","type":"quantitative","scale":{"type":"log","domain":[0.03,6],"nice":false},"axis":{"title":null,"labels":false,"values":[0.03,0.04,0.05,0.06,0.07,0.08,0.09,0.1,0.2,0.3,0.4,0.5,0.6,0.7,0.8,0.9,1,2,3,4,5,6],"tickSize":{"condition":{"test":"datum.value==0.1||datum.value==1","value":-4},"value":-2}}},
  "y":{"field":"v","type":"quantitative","scale":{"type":"log","domain":[0.02,1000],"nice":false},"axis":{"title":null,"labels":false,"values":[0.02,0.03,0.04,0.05,0.06,0.07,0.08,0.09,0.1,0.2,0.3,0.4,0.5,0.6,0.7,0.8,0.9,1,2,3,4,5,6,7,8,9,10,20,30,40,50,60,70,80,90,100,200,300,400,500,600,700,800,900,1000],"tickSize":{"condition":{"test":"datum.value==0.1||datum.value==1||datum.value==10||datum.value==100||datum.value==1000","value":-4},"value":-2}}},
  "color":{"field":"s","type":"nominal","scale":{"domain":["MWA","LOFAR","HERA","SKA"],"range":["#fa8072","#90ee90","#ffa500","#bf00bf"]},"legend":{"orient":"top-left","offset":4,"title":null,"symbolType":"M-1.4,0H1.4","symbolSize":100,"symbolStrokeWidth":1.6,"symbolFillColor":"transparent","labelFontSize":10.5,"labelFont":"Liberation Serif","padding":3,"rowPadding":2,"labelOffset":9,"fillColor":"white","strokeColor":"#cccccc","cornerRadius":3}}}},
 {"data":{"name":"sig"},"transform":[{"filter":"datum.p==2"}],"mark":{"type":"line","clip":true,"color":"black","strokeWidth":1.4},
  "encoding":{"x":{"field":"k","type":"quantitative","axis":{"orient":"top","title":null,"labels":false,"values":[0.03,0.04,0.05,0.06,0.07,0.08,0.09,0.1,0.2,0.3,0.4,0.5,0.6,0.7,0.8,0.9,1,2,3,4,5,6],"tickSize":{"condition":{"test":"datum.value==0.1||datum.value==1","value":-4},"value":-2}}},
  "y":{"field":"v","type":"quantitative","axis":{"orient":"right","title":null,"labels":false,"values":[0.02,0.03,0.04,0.05,0.06,0.07,0.08,0.09,0.1,0.2,0.3,0.4,0.5,0.6,0.7,0.8,0.9,1,2,3,4,5,6,7,8,9,10,20,30,40,50,60,70,80,90,100,200,300,400,500,600,700,800,900,1000],"tickSize":{"condition":{"test":"datum.value==0.1||datum.value==1||datum.value==10||datum.value==100||datum.value==1000","value":-4},"value":-2}}},
  "strokeDash":{"field":"d","type":"nominal","scale":{"domain":["pos","neg"],"range":[[1.5,2.5],[1,0]]},"legend":null},"detail":{"field":"g"}}}
]},
{"width":180,"height":162,"resolve":{"axis":{"x":"independent","y":"independent"}},"layer":[
 {"data":{"name":"noise"},"transform":[{"filter":"datum.p==3"}],"mark":{"type":"line","clip":true,"strokeWidth":1.5},
  "encoding":{"x":{"field":"k","type":"quantitative","scale":{"type":"log","domain":[0.03,6],"nice":false},"axis":{"title":null,"labels":false,"values":[0.03,0.04,0.05,0.06,0.07,0.08,0.09,0.1,0.2,0.3,0.4,0.5,0.6,0.7,0.8,0.9,1,2,3,4,5,6],"tickSize":{"condition":{"test":"datum.value==0.1||datum.value==1","value":-4},"value":-2}}},
  "y":{"field":"v","type":"quantitative","scale":{"type":"log","domain":[0.02,1000],"nice":false},"axis":{"title":null,"labels":false,"values":[0.02,0.03,0.04,0.05,0.06,0.07,0.08,0.09,0.1,0.2,0.3,0.4,0.5,0.6,0.7,0.8,0.9,1,2,3,4,5,6,7,8,9,10,20,30,40,50,60,70,80,90,100,200,300,400,500,600,700,800,900,1000],"tickSize":{"condition":{"test":"datum.value==0.1||datum.value==1||datum.value==10||datum.value==100||datum.value==1000","value":-4},"value":-2}}},
  "color":{"field":"s","type":"nominal","scale":{"domain":["MWA","LOFAR","HERA","SKA"],"range":["#fa8072","#90ee90","#ffa500","#bf00bf"]},"legend":null}}},
 {"data":{"name":"sig"},"transform":[{"filter":"datum.p==3"}],"mark":{"type":"line","clip":true,"color":"black","strokeWidth":1.4},
  "encoding":{"x":{"field":"k","type":"quantitative","axis":{"orient":"top","title":null,"labels":false,"values":[0.03,0.04,0.05,0.06,0.07,0.08,0.09,0.1,0.2,0.3,0.4,0.5,0.6,0.7,0.8,0.9,1,2,3,4,5,6],"tickSize":{"condition":{"test":"datum.value==0.1||datum.value==1","value":-4},"value":-2}}},
  "y":{"field":"v","type":"quantitative","axis":{"orient":"right","title":null,"labels":false,"values":[0.02,0.03,0.04,0.05,0.06,0.07,0.08,0.09,0.1,0.2,0.3,0.4,0.5,0.6,0.7,0.8,0.9,1,2,3,4,5,6,7,8,9,10,20,30,40,50,60,70,80,90,100,200,300,400,500,600,700,800,900,1000],"tickSize":{"condition":{"test":"datum.value==0.1||datum.value==1||datum.value==10||datum.value==100||datum.value==1000","value":-4},"value":-2}}},
  "strokeDash":{"field":"d","type":"nominal","scale":{"domain":["pos","neg"],"range":[[1.5,2.5],[1,0]]},"legend":null},"detail":{"field":"g"}}}
]},
{"width":180,"height":162,"resolve":{"axis":{"x":"independent","y":"independent"}},"layer":[
 {"data":{"name":"noise"},"transform":[{"filter":"datum.p==4"}],"mark":{"type":"line","clip":true,"strokeWidth":1.5},
  "encoding":{"x":{"field":"k","type":"quantitative","scale":{"type":"log","domain":[0.03,6],"nice":false},"axis":{"title":null,"labels":false,"values":[0.03,0.04,0.05,0.06,0.07,0.08,0.09,0.1,0.2,0.3,0.4,0.5,0.6,0.7,0.8,0.9,1,2,3,4,5,6],"tickSize":{"condition":{"test":"datum.value==0.1||datum.value==1","value":-4},"value":-2}}},
  "y":{"field":"v","type":"quantitative","scale":{"type":"log","domain":[0.02,1000],"nice":false},"axis":{"title":null,"labels":false,"values":[0.02,0.03,0.04,0.05,0.06,0.07,0.08,0.09,0.1,0.2,0.3,0.4,0.5,0.6,0.7,0.8,0.9,1,2,3,4,5,6,7,8,9,10,20,30,40,50,60,70,80,90,100,200,300,400,500,600,700,800,900,1000],"tickSize":{"condition":{"test":"datum.value==0.1||datum.value==1||datum.value==10||datum.value==100||datum.value==1000","value":-4},"value":-2}}},
  "color":{"field":"s","type":"nominal","scale":{"domain":["MWA","LOFAR","HERA","SKA"],"range":["#fa8072","#90ee90","#ffa500","#bf00bf"]},"legend":null}}},
 {"data":{"name":"sig"},"transform":[{"filter":"datum.p==4"}],"mark":{"type":"line","clip":true,"color":"black","strokeWidth":1.4},
  "encoding":{"x":{"field":"k","type":"quantitative","axis":{"orient":"top","title":null,"labels":false,"values":[0.03,0.04,0.05,0.06,0.07,0.08,0.09,0.1,0.2,0.3,0.4,0.5,0.6,0.7,0.8,0.9,1,2,3,4,5,6],"tickSize":{"condition":{"test":"datum.value==0.1||datum.value==1","value":-4},"value":-2}}},
  "y":{"field":"v","type":"quantitative","axis":{"orient":"right","title":null,"labels":false,"values":[0.02,0.03,0.04,0.05,0.06,0.07,0.08,0.09,0.1,0.2,0.3,0.4,0.5,0.6,0.7,0.8,0.9,1,2,3,4,5,6,7,8,9,10,20,30,40,50,60,70,80,90,100,200,300,400,500,600,700,800,900,1000],"tickSize":{"condition":{"test":"datum.value==0.1||datum.value==1||datum.value==10||datum.value==100||datum.value==1000","value":-4},"value":-2}}},
  "strokeDash":{"field":"d","type":"nominal","scale":{"domain":["pos","neg"],"range":[[1.5,2.5],[1,0]]},"legend":null},"detail":{"field":"g"}}}
]},
{"width":180,"height":82,"resolve":{"axis":{"x":"independent","y":"independent"}},"layer":[
 {"data":{"name":"snr"},"transform":[{"filter":"datum.p==1"}],"mark":{"type":"line","clip":true,"strokeWidth":1.5},
  "encoding":{"x":{"field":"k","type":"quantitative","scale":{"type":"log","domain":[0.03,6],"nice":false},"axis":{"title":"k [h/cMpc]","values":[0.03,0.04,0.05,0.06,0.07,0.08,0.09,0.1,0.2,0.3,0.4,0.5,0.6,0.7,0.8,0.9,1,2,3,4,5,6],"labelExpr":"datum.value==0.1?'0.100':datum.value==1?'1.000':''","tickSize":{"condition":{"test":"datum.value==0.1||datum.value==1","value":-4},"value":-2},"labelPadding":8,"titlePadding":4}},
  "y":{"field":"v","type":"quantitative","scale":{"type":"log","domain":[0.1,16],"nice":false},"axis":{"title":"SNR = |P/σ|","values":[0.1,0.2,0.3,0.4,0.5,0.6,0.7,0.8,0.9,1,2,3,4,5,6,7,8,9,10],"labelExpr":"datum.value==10?'10¹':datum.value==1?'10⁰':datum.value==0.1?'10⁻¹':''","tickSize":{"condition":{"test":"datum.value==0.1||datum.value==1||datum.value==10","value":-4},"value":-2},"labelPadding":10,"minExtent":34,"maxExtent":34,"titlePadding":10}},
  "color":{"field":"s","type":"nominal","scale":{"domain":["MWA","LOFAR","HERA","SKA"],"range":["#fa8072","#90ee90","#ffa500","#bf00bf"]},"legend":null}}},
 {"data":{"values":[{}]},"mark":{"type":"rule","strokeDash":[6,3],"color":"#808080","strokeWidth":1},"encoding":{"y":{"datum":1,"type":"quantitative","axis":null}}},
 {"data":{"values":[{"z":"z = 5.756"}]},"mark":{"type":"text","align":"right","baseline":"middle","fontSize":13},"encoding":{"x":{"datum":4.6,"type":"quantitative","axis":{"orient":"top","title":null,"labels":false,"values":[0.03,0.04,0.05,0.06,0.07,0.08,0.09,0.1,0.2,0.3,0.4,0.5,0.6,0.7,0.8,0.9,1,2,3,4,5,6],"tickSize":{"condition":{"test":"datum.value==0.1||datum.value==1","value":-4},"value":-2}}},"y":{"datum":8,"type":"quantitative","axis":{"orient":"right","title":null,"labels":false,"values":[0.1,0.2,0.3,0.4,0.5,0.6,0.7,0.8,0.9,1,2,3,4,5,6,7,8,9,10],"tickSize":{"condition":{"test":"datum.value==0.1||datum.value==1||datum.value==10","value":-4},"value":-2}}},"text":{"field":"z"}}}
]},
{"width":180,"height":82,"resolve":{"axis":{"x":"independent","y":"independent"}},"layer":[
 {"data":{"name":"snr"},"transform":[{"filter":"datum.p==2"}],"mark":{"type":"line","clip":true,"strokeWidth":1.5},
  "encoding":{"x":{"field":"k","type":"quantitative","scale":{"type":"log","domain":[0.03,6],"nice":false},"axis":{"title":"k [h/cMpc]","values":[0.03,0.04,0.05,0.06,0.07,0.08,0.09,0.1,0.2,0.3,0.4,0.5,0.6,0.7,0.8,0.9,1,2,3,4,5,6],"labelExpr":"datum.value==0.1?'0.100':datum.value==1?'1.000':''","tickSize":{"condition":{"test":"datum.value==0.1||datum.value==1","value":-4},"value":-2},"labelPadding":8,"titlePadding":4}},
  "y":{"field":"v","type":"quantitative","scale":{"type":"log","domain":[0.1,16],"nice":false},"axis":{"title":null,"labels":false,"values":[0.1,0.2,0.3,0.4,0.5,0.6,0.7,0.8,0.9,1,2,3,4,5,6,7,8,9,10],"tickSize":{"condition":{"test":"datum.value==0.1||datum.value==1||datum.value==10","value":-4},"value":-2}}},
  "color":{"field":"s","type":"nominal","scale":{"domain":["MWA","LOFAR","HERA","SKA"],"range":["#fa8072","#90ee90","#ffa500","#bf00bf"]},"legend":null}}},
 {"data":{"values":[{}]},"mark":{"type":"rule","strokeDash":[6,3],"color":"#808080","strokeWidth":1},"encoding":{"y":{"datum":1,"type":"quantitative","axis":null}}},
 {"data":{"values":[{"z":"z = 6.604"}]},"mark":{"type":"text","align":"right","baseline":"middle","fontSize":13},"encoding":{"x":{"datum":4.6,"type":"quantitative","axis":{"orient":"top","title":null,"labels":false,"values":[0.03,0.04,0.05,0.06,0.07,0.08,0.09,0.1,0.2,0.3,0.4,0.5,0.6,0.7,0.8,0.9,1,2,3,4,5,6],"tickSize":{"condition":{"test":"datum.value==0.1||datum.value==1","value":-4},"value":-2}}},"y":{"datum":8,"type":"quantitative","axis":{"orient":"right","title":null,"labels":false,"values":[0.1,0.2,0.3,0.4,0.5,0.6,0.7,0.8,0.9,1,2,3,4,5,6,7,8,9,10],"tickSize":{"condition":{"test":"datum.value==0.1||datum.value==1||datum.value==10","value":-4},"value":-2}}},"text":{"field":"z"}}}
]},
{"width":180,"height":82,"resolve":{"axis":{"x":"independent","y":"independent"}},"layer":[
 {"data":{"name":"snr"},"transform":[{"filter":"datum.p==3"}],"mark":{"type":"line","clip":true,"strokeWidth":1.5},
  "encoding":{"x":{"field":"k","type":"quantitative","scale":{"type":"log","domain":[0.03,6],"nice":false},"axis":{"title":"k [h/cMpc]","values":[0.03,0.04,0.05,0.06,0.07,0.08,0.09,0.1,0.2,0.3,0.4,0.5,0.6,0.7,0.8,0.9,1,2,3,4,5,6],"labelExpr":"datum.value==0.1?'0.100':datum.value==1?'1.000':''","tickSize":{"condition":{"test":"datum.value==0.1||datum.value==1","value":-4},"value":-2},"labelPadding":8,"titlePadding":4}},
  "y":{"field":"v","type":"quantitative","scale":{"type":"log","domain":[0.1,16],"nice":false},"axis":{"title":null,"labels":false,"values":[0.1,0.2,0.3,0.4,0.5,0.6,0.7,0.8,0.9,1,2,3,4,5,6,7,8,9,10],"tickSize":{"condition":{"test":"datum.value==0.1||datum.value==1||datum.value==10","value":-4},"value":-2}}},
  "color":{"field":"s","type":"nominal","scale":{"domain":["MWA","LOFAR","HERA","SKA"],"range":["#fa8072","#90ee90","#ffa500","#bf00bf"]},"legend":null}}},
 {"data":{"values":[{}]},"mark":{"type":"rule","strokeDash":[6,3],"color":"#808080","strokeWidth":1},"encoding":{"y":{"datum":1,"type":"quantitative","axis":null}}},
 {"data":{"values":[{"z":"z = 6.860"}]},"mark":{"type":"text","align":"right","baseline":"middle","fontSize":13},"encoding":{"x":{"datum":4.6,"type":"quantitative","axis":{"orient":"top","title":null,"labels":false,"values":[0.03,0.04,0.05,0.06,0.07,0.08,0.09,0.1,0.2,0.3,0.4,0.5,0.6,0.7,0.8,0.9,1,2,3,4,5,6],"tickSize":{"condition":{"test":"datum.value==0.1||datum.value==1","value":-4},"value":-2}}},"y":{"datum":8,"type":"quantitative","axis":{"orient":"right","title":null,"labels":false,"values":[0.1,0.2,0.3,0.4,0.5,0.6,0.7,0.8,0.9,1,2,3,4,5,6,7,8,9,10],"tickSize":{"condition":{"test":"datum.value==0.1||datum.value==1||datum.value==10","value":-4},"value":-2}}},"text":{"field":"z"}}}
]},
{"width":180,"height":82,"resolve":{"axis":{"x":"independent","y":"independent"}},"layer":[
 {"data":{"name":"snr"},"transform":[{"filter":"datum.p==4"}],"mark":{"type":"line","clip":true,"strokeWidth":1.5},
  "encoding":{"x":{"field":"k","type":"quantitative","scale":{"type":"log","domain":[0.03,6],"nice":false},"axis":{"title":"k [h/cMpc]","values":[0.03,0.04,0.05,0.06,0.07,0.08,0.09,0.1,0.2,0.3,0.4,0.5,0.6,0.7,0.8,0.9,1,2,3,4,5,6],"labelExpr":"datum.value==0.1?'0.100':datum.value==1?'1.000':''","tickSize":{"condition":{"test":"datum.value==0.1||datum.value==1","value":-4},"value":-2},"labelPadding":8,"titlePadding":4}},
  "y":{"field":"v","type":"quantitative","scale":{"type":"log","domain":[0.1,16],"nice":false},"axis":{"title":null,"labels":false,"values":[0.1,0.2,0.3,0.4,0.5,0.6,0.7,0.8,0.9,1,2,3,4,5,6,7,8,9,10],"tickSize":{"condition":{"test":"datum.value==0.1||datum.value==1||datum.value==10","value":-4},"value":-2}}},
  "color":{"field":"s","type":"nominal","scale":{"domain":["MWA","LOFAR","HERA","SKA"],"range":["#fa8072","#90ee90","#ffa500","#bf00bf"]},"legend":null}}},
 {"data":{"values":[{}]},"mark":{"type":"rule","strokeDash":[6,3],"color":"#808080","strokeWidth":1},"encoding":{"y":{"datum":1,"type":"quantitative","axis":null}}},
 {"data":{"values":[{"z":"z = 7.444"}]},"mark":{"type":"text","align":"right","baseline":"middle","fontSize":13},"encoding":{"x":{"datum":4.6,"type":"quantitative","axis":{"orient":"top","title":null,"labels":false,"values":[0.03,0.04,0.05,0.06,0.07,0.08,0.09,0.1,0.2,0.3,0.4,0.5,0.6,0.7,0.8,0.9,1,2,3,4,5,6],"tickSize":{"condition":{"test":"datum.value==0.1||datum.value==1","value":-4},"value":-2}}},"y":{"datum":8,"type":"quantitative","axis":{"orient":"right","title":null,"labels":false,"values":[0.1,0.2,0.3,0.4,0.5,0.6,0.7,0.8,0.9,1,2,3,4,5,6,7,8,9,10],"tickSize":{"condition":{"test":"datum.value==0.1||datum.value==1||datum.value==10","value":-4},"value":-2}}},"text":{"field":"z"}}}
]}
]
}
